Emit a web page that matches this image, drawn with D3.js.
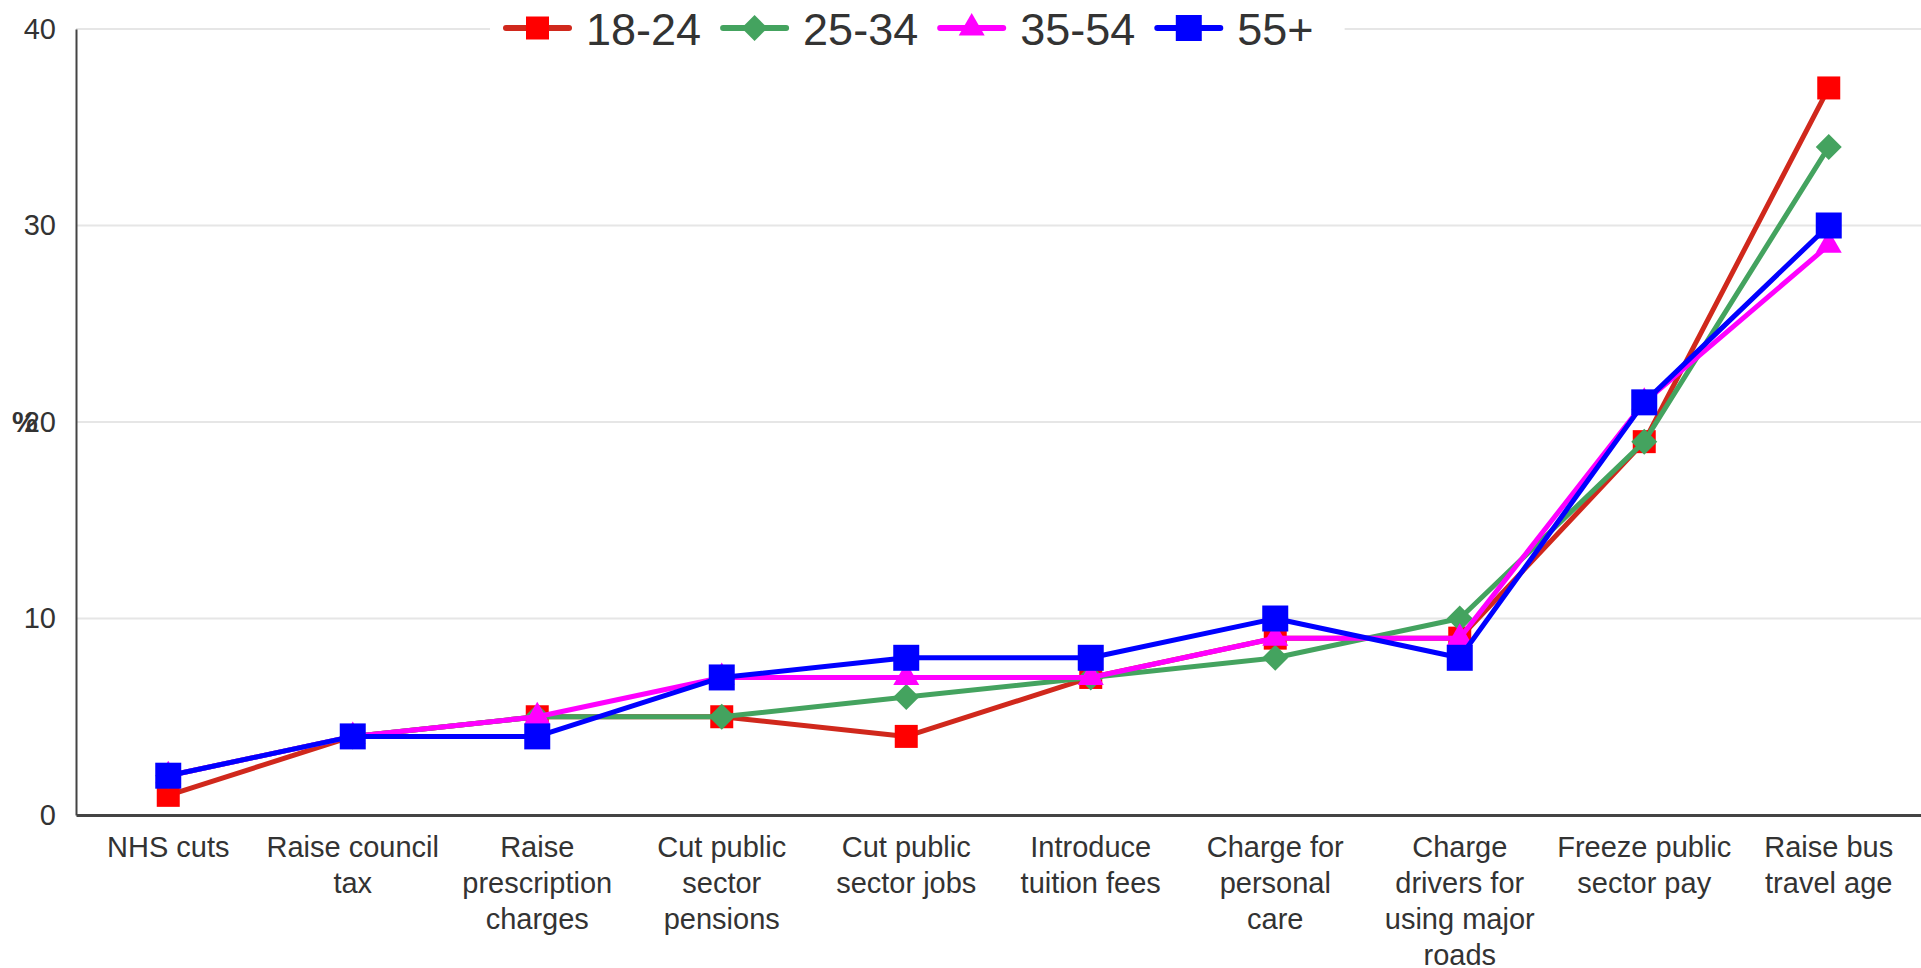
<!DOCTYPE html>
<html>
<head>
<meta charset="utf-8">
<script src="https://cdnjs.cloudflare.com/ajax/libs/d3/7.8.5/d3.min.js"></script>
<style>
  html, body { margin: 0; padding: 0; background: #fff; }
  svg { display: block; font-family: "Liberation Sans", Arial, sans-serif; }
</style>
</head>
<body>
<svg width="1921" height="968"></svg>
<script>
// chart data
var categories = ["NHS cuts", "Raise council\ntax", "Raise\nprescription\ncharges", "Cut public\nsector\npensions",
  "Cut public\nsector jobs", "Introduce\ntuition fees", "Charge for\npersonal\ncare", "Charge\ndrivers for\nusing major\nroads",
  "Freeze public\nsector pay", "Raise bus\ntravel age"];
var seriesNames = ["18-24", "25-34", "35-54", "55+"];
var v1824 = [1, 4, 5, 5, 4, 7, 9, 9, 19, 37];
var v2534 = [2, 4, 5, 5, 6, 7, 8, 10, 19, 34];
var v3554 = [2, 4, 5, 7, 7, 7, 9, 9, 21, 29];
var v55 = [2, 4, 4, 7, 8, 8, 10, 8, 21, 30];
var yTicks = [0, 10, 20, 30, 40];

var svg = d3.select("svg"),
    width = +svg.attr("width"),
    height = +svg.attr("height");

var pLeft = 76, pRight = 1921, pTop = 29, pBottom = 815;

var x = d3.scalePoint().domain(d3.range(categories.length)).range([pLeft, pRight]).padding(0.5);
var y = d3.scaleLinear().domain([0, 40]).range([pBottom, pTop]);

var styles = [
  {line: "#d0281c", fill: "#ff0000", sym: "square", size: 23},
  {line: "#44a35f", fill: "#44a35f", sym: "diamond", size: 26},
  {line: "#ff00ff", fill: "#ff00ff", sym: "triangle", size: 26},
  {line: "#0000ff", fill: "#0000ff", sym: "square", size: 26}
];
var allValues = [v1824, v2534, v3554, v55];

function symbolPath(s) {
  if (s.sym == "square") return d3.symbol(d3.symbolSquare, s.size * s.size)();
  if (s.sym == "diamond") return d3.symbol(d3.symbolSquare, s.size * s.size / 2)();
  return d3.symbol(d3.symbolTriangle, Math.sqrt(3) / 4 * s.size * s.size)();
}

// grid
svg.append("g").selectAll("line").data(yTicks.filter(function(d) { return d > 0; }))
  .enter().append("line")
  .attr("x1", pLeft).attr("x2", pRight)
  .attr("y1", function(d) { return y(d); }).attr("y2", function(d) { return y(d); })
  .attr("stroke", "#e6e6e6").attr("stroke-width", 2);

// y axis
var yAxis = svg.append("g")
  .attr("transform", "translate(" + pLeft + ",0)")
  .call(d3.axisLeft(y).tickValues(yTicks).tickSize(0).tickPadding(20));
yAxis.select(".domain").attr("stroke", "#444").attr("stroke-width", 2);
yAxis.selectAll("text").attr("font-size", 29).attr("fill", "#333").attr("font-family", "Liberation Sans, Arial, sans-serif");

svg.append("text")
  .attr("x", 25)
  .attr("y", (pTop + pBottom) / 2)
  .attr("text-anchor", "middle")
  .attr("dy", "0.35em")
  .attr("font-size", 29).attr("font-weight", "bold").attr("fill", "#333")
  .text("%");

// x axis
var xAxis = svg.append("g")
  .attr("transform", "translate(0," + pBottom + ")")
  .call(d3.axisBottom(x).tickSize(0).tickFormat(""));
xAxis.select(".domain").attr("stroke", "#444").attr("stroke-width", 3);

svg.append("g").selectAll("text").data(categories)
  .enter().append("text")
  .attr("x", function(d, i) { return x(i); })
  .attr("y", 857)
  .attr("text-anchor", "middle")
  .attr("font-size", 29).attr("fill", "#333")
  .each(function(d) {
    var t = d3.select(this);
    d.split("\n").forEach(function(line, j) {
      t.append("tspan").attr("x", t.attr("x")).attr("dy", j == 0 ? 0 : 36).text(line);
    });
  });

// series
var line = d3.line()
  .x(function(d, i) { return x(i); })
  .y(function(d) { return y(d); });

allValues.forEach(function(vals, k) {
  var s = styles[k];
  var g = svg.append("g");
  g.append("path")
    .attr("d", line(vals))
    .attr("fill", "none")
    .attr("stroke", s.line)
    .attr("stroke-width", 5)
    .attr("stroke-linejoin", "round");
  g.selectAll(".pt").data(vals).enter().append("path")
    .attr("class", "pt")
    .attr("d", symbolPath(s))
    .attr("fill", s.fill)
    .attr("transform", function(d, i) {
      return "translate(" + x(i) + "," + y(d) + ")" + (s.sym == "diamond" ? " rotate(45)" : "");
    });
});

// legend
var legend = svg.append("g");
var bg = legend.append("rect").attr("fill", "#fff");
var lx = 503, ly = 28;
seriesNames.forEach(function(name, k) {
  var s = styles[k];
  legend.append("line")
    .attr("x1", lx + 3).attr("x2", lx + 66).attr("y1", ly).attr("y2", ly)
    .attr("stroke", s.line).attr("stroke-width", 6).attr("stroke-linecap", "round");
  legend.append("path")
    .attr("d", symbolPath(s))
    .attr("fill", s.fill)
    .attr("transform", "translate(" + (lx + 34.5) + "," + ly + ")" + (s.sym == "diamond" ? " rotate(45)" : ""));
  var txt = legend.append("text")
    .attr("x", lx + 83).attr("y", 45)
    .attr("font-size", 45).attr("fill", "#333")
    .text(name);
  lx = lx + 83 + txt.node().getComputedTextLength() + 19;
});
bg.attr("x", 490).attr("y", 0).attr("width", lx - 490 + 12).attr("height", 56);
</script>
</body>
</html>
